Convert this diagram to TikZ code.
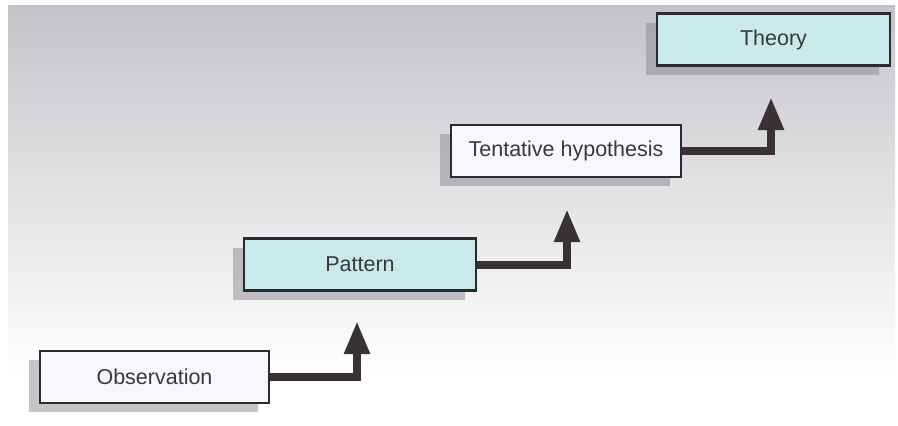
\documentclass[tikz,border=0pt]{standalone}
\usepackage{fontspec}
\setmainfont{Liberation Sans}
\usetikzlibrary{arrows.meta,shadows}

\definecolor{bgtop}{HTML}{C5C3C8}
\definecolor{bgmid}{HTML}{D9D7DB}
\definecolor{boxline}{HTML}{2C2A30}
\definecolor{boxwhite}{HTML}{F6F8FB}
\definecolor{boxcyan}{HTML}{C9EAEA}
\definecolor{textgray}{HTML}{38383E}
\definecolor{arrowc}{HTML}{3A3136}
\definecolor{shadowc}{HTML}{8E8A90}

\tikzset{
  stepbox/.style={draw=boxline, line width=2.4pt, minimum height=52pt,
    inner sep=0pt, text=textgray,
    font=\fontsize{21.5}{24}\selectfont,
    drop shadow={shadow xshift=-11pt, shadow yshift=-9pt,
      fill=shadowc, opacity=0.5}},
  whitebox/.style={stepbox, fill=boxwhite},
  cyanbox/.style={stepbox, fill=boxcyan},
  upline/.style={draw=arrowc, line width=8pt, line join=miter,
    -{Triangle[width=24pt,length=33pt]}}
}

\begin{document}
\begin{tikzpicture}[x=1pt,y=-1pt]
  \useasboundingbox (0,0) rectangle (898,426);
  % paper background fading to white towards the bottom
  \fill[white] (0,0) rectangle (898,426);
  \shade[top color=bgtop, middle color=bgmid, bottom color=white]
    (8,5) rectangle (895,375);

  % the four steps
  \node[whitebox, minimum width=229pt] (obs)  at (154.5,377) {Observation};
  \node[cyanbox,  minimum width=232pt] (pat)  at (360,264.5) {Pattern};
  \node[whitebox, minimum width=230pt] (tent) at (566,151) {Tentative hypothesis};
  \node[cyanbox,  minimum width=233pt] (theo) at (773.5,39.5) {Theory};

  % tips of the rising arrows
  \coordinate (t1) at (357,321);
  \coordinate (t2) at (567,209);
  \coordinate (t3) at (771,97);

  \draw[upline] (obs.east) -| (t1);
  \draw[upline] (pat.east) -| (t2);
  \draw[upline] (tent.east) -| (t3);
\end{tikzpicture}
\end{document}
